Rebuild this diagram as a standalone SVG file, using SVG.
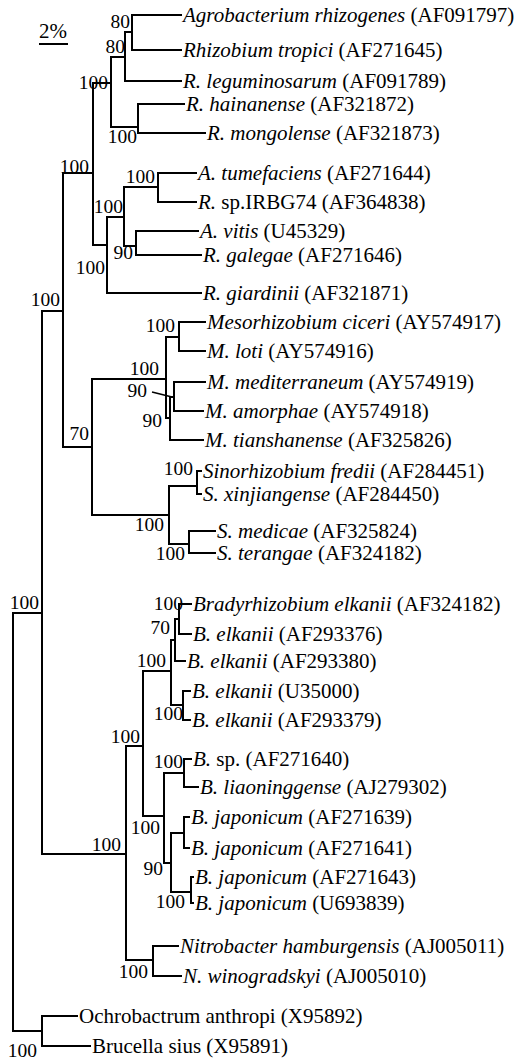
<svg xmlns="http://www.w3.org/2000/svg" width="522" height="1061" viewBox="0 0 522 1061">
<style>
text{font-family:"Liberation Serif","Times New Roman",serif;fill:#000}
.leaf{font-size:21px}
.bs{font-size:19.5px;text-anchor:end}
.i{font-style:italic}
.br{fill:none;stroke:#000;stroke-width:2;stroke-linecap:square}
</style>
<rect width="522" height="1061" fill="#fff"/>
<g id="scale">
<text class="leaf" x="39" y="38">2%</text>
<line x1="39" y1="44" x2="68" y2="44" stroke="#000" stroke-width="2"/>
</g>
<g id="connectors">
<path class="br" d="M132,15 H181 M132,50 H181 M132,15 V50 M125,32 H132 M125,32 V81 M125,81 H181 M111,57 H125 M111,57 V127 M111,127 H138 M138,104 V133 M138,104 H184 M138,133 H205 M93,83 H111 M93,83 V245 M63,173 H93 M63,173 V447 M42,311 H63 M124,187 H158 M158,173 V202 M158,173 H196 M158,202 H196 M124,187 V246 M124,246 H136 M136,231 V255 M136,231 H198 M136,255 H201 M107,217 H124 M107,217 V293 M107,293 H201 M93,245 H107 M179,322 V351 M179,322 H205 M179,351 H205 M166,337 H179 M166,337 V418 M166,418 H170 M170,397 V440 M170,440 H203 M170,397 H174 M174,382 V411 M174,382 H205 M174,411 H203 M92,379 H166 M92,379 V515 M63,447 H92 M197,471 V494 M197,471 H201 M197,494 H201 M169,486 H197 M169,486 V544 M169,544 H189 M189,531 V553 M189,531 H215 M189,553 H215 M92,515 H169 M13,613 H42 M42,311 V854 M13,613 V1031 M13,1031 H42 M42,1016 V1046 M42,1016 H77 M42,1046 H90 M179,604 V634 M179,604 H191 M179,634 H191 M175,619 H179 M175,619 V661 M175,661 H185 M171,640 H175 M171,640 V705 M171,705 H183 M183,691 V720 M183,691 H190 M183,720 H190 M143,671 H171 M143,671 V816 M126,746 H143 M164,773 H184 M184,759 V787 M184,759 H191 M184,787 H198 M143,816 H164 M164,773 V863 M164,863 H171 M171,833 V892 M171,833 H184 M184,817 V848 M184,817 H189 M184,848 H189 M171,892 H191 M191,877 V903 M191,877 H193 M191,903 H193 M42,854 H126 M126,746 V960 M126,960 H153 M153,946 V976 M153,946 H178 M153,976 H181"/>
<path d="M152,392 L172,397" stroke="#000" stroke-width="1.5" fill="none"/>
</g>
<g id="support">
<text class="bs" x="130" y="28">80</text>
<text class="bs" x="125" y="53">80</text>
<text class="bs" x="108" y="89">100</text>
<text class="bs" x="137" y="143">100</text>
<text class="bs" x="89" y="173">100</text>
<text class="bs" x="155" y="183">100</text>
<text class="bs" x="123" y="213">100</text>
<text class="bs" x="133" y="259">90</text>
<text class="bs" x="105" y="274">100</text>
<text class="bs" x="60" y="306">100</text>
<text class="bs" x="175" y="332">100</text>
<text class="bs" x="159" y="375">100</text>
<text class="bs" x="147" y="397">90</text>
<text class="bs" x="162" y="427">90</text>
<text class="bs" x="89" y="440">70</text>
<text class="bs" x="193" y="475">100</text>
<text class="bs" x="164" y="531">100</text>
<text class="bs" x="185" y="560">100</text>
<text class="bs" x="39" y="609">100</text>
<text class="bs" x="183" y="610">100</text>
<text class="bs" x="170" y="634">70</text>
<text class="bs" x="166" y="667">100</text>
<text class="bs" x="183" y="720">100</text>
<text class="bs" x="140" y="743">100</text>
<text class="bs" x="183" y="768">100</text>
<text class="bs" x="160" y="834">100</text>
<text class="bs" x="121" y="851">100</text>
<text class="bs" x="163" y="875">90</text>
<text class="bs" x="185" y="908">100</text>
<text class="bs" x="148" y="978">100</text>
<text class="bs" x="37" y="1057">100</text>
</g>
<g id="t1"><text class="leaf" x="183" y="22"><tspan class="i">Agrobacterium rhizogenes</tspan> (AF091797)</text></g>
<g id="t2"><text class="leaf" x="183" y="57"><tspan class="i">Rhizobium tropici</tspan> (AF271645)</text></g>
<g id="t3"><text class="leaf" x="183" y="88"><tspan class="i">R. leguminosarum</tspan> (AF091789)</text></g>
<g id="t4"><text class="leaf" x="186" y="111"><tspan class="i">R. hainanense</tspan> (AF321872)</text></g>
<g id="t5"><text class="leaf" x="207" y="140"><tspan class="i">R. mongolense</tspan> (AF321873)</text></g>
<g id="t6"><text class="leaf" x="198" y="180"><tspan class="i">A. tumefaciens</tspan> (AF271644)</text></g>
<g id="t7"><text class="leaf" x="198" y="209"><tspan class="i">R.</tspan> sp.IRBG74 (AF364838)</text></g>
<g id="t8"><text class="leaf" x="200" y="238"><tspan class="i">A. vitis</tspan> (U45329)</text></g>
<g id="t9"><text class="leaf" x="203" y="262"><tspan class="i">R. galegae</tspan> (AF271646)</text></g>
<g id="t10"><text class="leaf" x="203" y="300"><tspan class="i">R. giardinii</tspan> (AF321871)</text></g>
<g id="t11"><text class="leaf" x="207" y="329"><tspan class="i">Mesorhizobium ciceri</tspan> (AY574917)</text></g>
<g id="t12"><text class="leaf" x="207" y="358"><tspan class="i">M. loti</tspan> (AY574916)</text></g>
<g id="t13"><text class="leaf" x="207" y="389"><tspan class="i">M. mediterraneum</tspan> (AY574919)</text></g>
<g id="t14"><text class="leaf" x="205" y="418"><tspan class="i">M. amorphae</tspan> (AY574918)</text></g>
<g id="t15"><text class="leaf" x="205" y="447"><tspan class="i">M. tianshanense</tspan> (AF325826)</text></g>
<g id="t16"><text class="leaf" x="203" y="478"><tspan class="i">Sinorhizobium fredii</tspan> (AF284451)</text></g>
<g id="t17"><text class="leaf" x="203" y="501"><tspan class="i">S. xinjiangense</tspan> (AF284450)</text></g>
<g id="t18"><text class="leaf" x="217" y="538"><tspan class="i">S. medicae</tspan> (AF325824)</text></g>
<g id="t19"><text class="leaf" x="217" y="560"><tspan class="i">S. terangae</tspan> (AF324182)</text></g>
<g id="t20"><text class="leaf" x="193" y="611"><tspan class="i">Bradyrhizobium elkanii</tspan> (AF324182)</text></g>
<g id="t21"><text class="leaf" x="193" y="641"><tspan class="i">B. elkanii</tspan> (AF293376)</text></g>
<g id="t22"><text class="leaf" x="187" y="668"><tspan class="i">B. elkanii</tspan> (AF293380)</text></g>
<g id="t23"><text class="leaf" x="192" y="698"><tspan class="i">B. elkanii</tspan> (U35000)</text></g>
<g id="t24"><text class="leaf" x="192" y="727"><tspan class="i">B. elkanii</tspan> (AF293379)</text></g>
<g id="t25"><text class="leaf" x="193" y="766"><tspan class="i">B.</tspan> sp. (AF271640)</text></g>
<g id="t26"><text class="leaf" x="200" y="794"><tspan class="i">B. liaoninggense</tspan> (AJ279302)</text></g>
<g id="t27"><text class="leaf" x="191" y="824"><tspan class="i">B. japonicum</tspan> (AF271639)</text></g>
<g id="t28"><text class="leaf" x="191" y="855"><tspan class="i">B. japonicum</tspan> (AF271641)</text></g>
<g id="t29"><text class="leaf" x="195" y="884"><tspan class="i">B. japonicum</tspan> (AF271643)</text></g>
<g id="t30"><text class="leaf" x="195" y="910"><tspan class="i">B. japonicum</tspan> (U693839)</text></g>
<g id="t31"><text class="leaf" x="180" y="953"><tspan class="i">Nitrobacter hamburgensis</tspan> (AJ005011)</text></g>
<g id="t32"><text class="leaf" x="183" y="983"><tspan class="i">N. winogradskyi</tspan> (AJ005010)</text></g>
<g id="t33"><text class="leaf" x="79" y="1023">Ochrobactrum anthropi (X95892)</text></g>
<g id="t34"><text class="leaf" x="92" y="1053">Brucella sius (X95891)</text></g>
</svg>
